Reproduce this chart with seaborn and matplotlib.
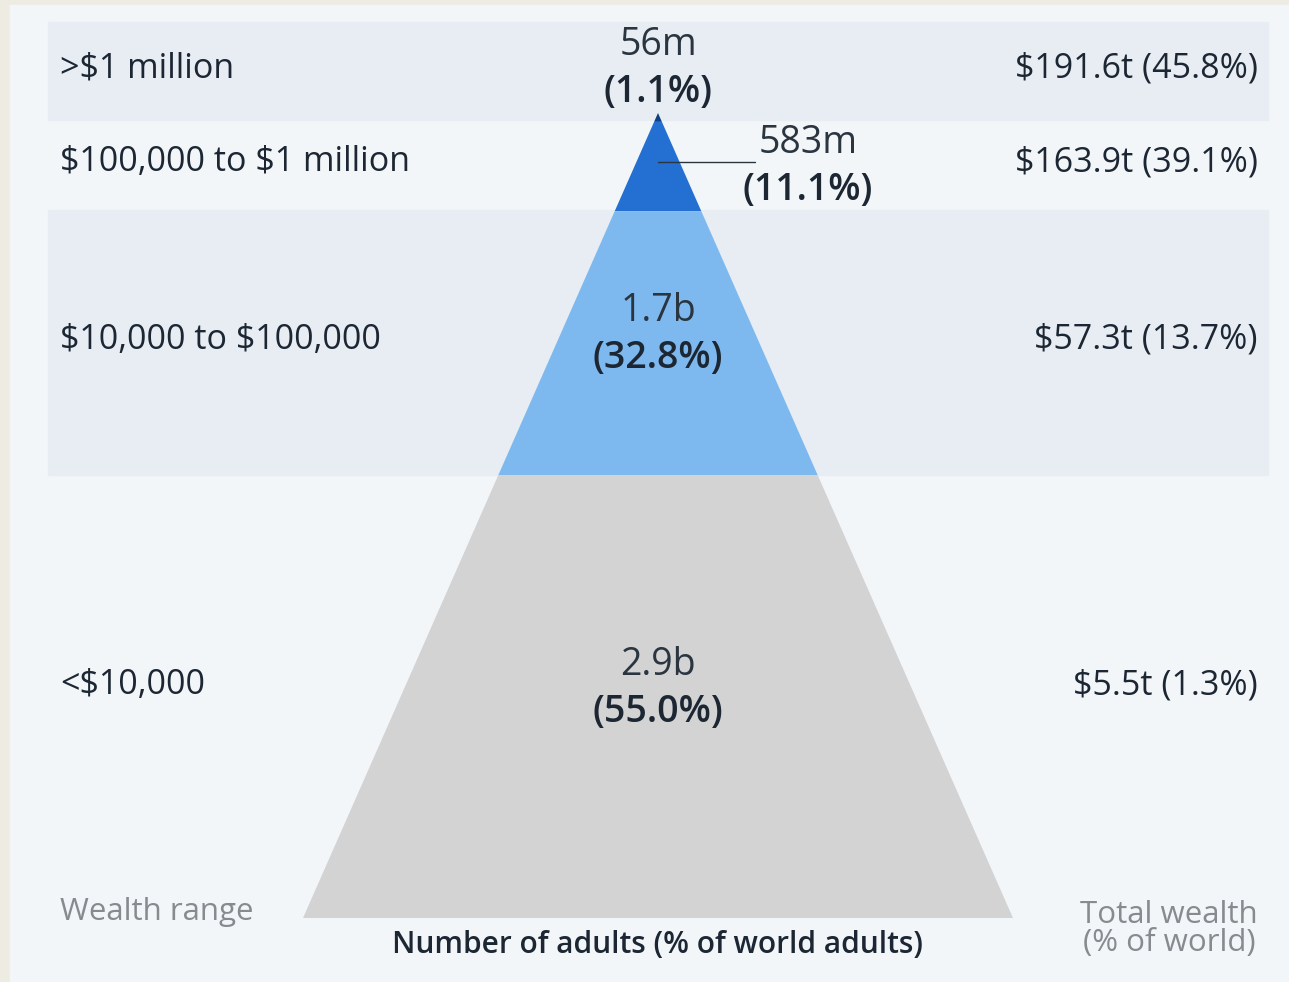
import numpy as np
import matplotlib.pyplot as plt
import seaborn as sns

# data
wealth_ranges = [">$1 million", "$100,000 to $1 million", "$10,000 to $100,000", "<$10,000"]
adults_label = ["56m", "583m", "1.7b", "2.9b"]
adults_pct = [1.1, 11.1, 32.8, 55.0]
wealth_total = [191.6, 163.9, 57.3, 5.5]
wealth_pct = [45.8, 39.1, 13.7, 1.3]

sns.set_theme(style="white")
plt.rcParams['font.family'] = ['Open Sans', 'DejaVu Sans']

tier_colors = ["#123f80", "#2370d2", "#7db9ef", "#d3d3d3"]
dark = "#1c2733"
grey_txt = "#868b90"

W, H = 1289, 982
fig = plt.figure(figsize=(W / 100, H / 100), dpi=100)
fig.patch.set_facecolor("#eeebe3")
ax = fig.add_axes([0, 0, 1, 1])
ax.set_xlim(0, W)
ax.set_ylim(H, 0)
ax.axis("off")

# panel and alternating row bands
ax.add_patch(plt.Rectangle((10, 5), W - 10, H - 5, color="#f3f6f9", zorder=0))
for top, bot in [(22, 120), (210, 475)]:
    ax.add_patch(plt.Rectangle((48, top), 1220, bot - top, color="#e8edf4", zorder=1))

# pyramid: tier heights proportional to share of adults
cx, apex, base, half = 658, 113, 918, 355
cum = np.concatenate([[0], np.cumsum(adults_pct)])
cum = cum / cum[-1]
edges = apex + (base - apex) * cum
for i in range(len(adults_pct)):
    t, b = edges[i], edges[i + 1]
    wt = half * (t - apex) / (base - apex)
    wb = half * (b - apex) / (base - apex)
    ax.fill([cx - wt, cx + wt, cx + wb, cx - wb], [t, t, b, b],
            color=tier_colors[i], lw=0, zorder=2)

fs = 24.5
row_y = [68, 162, 340, 685]
for i in range(4):
    ax.text(60, row_y[i], wealth_ranges[i], fontsize=fs, color=dark,
            ha="left", va="center", zorder=3, parse_math=False)
    ax.text(1258, row_y[i], f"${wealth_total[i]}t ({wealth_pct[i]}%)", fontsize=fs,
            color=dark, ha="right", va="center", zorder=3, parse_math=False)

# labels on the pyramid
pfs = 27
label_pos = [(cx, 45), (808, 143), (cx, (edges[2] + edges[3]) / 2 - 32),
             (cx, (edges[3] + edges[4]) / 2 - 32)]
for i, (x, y) in enumerate(label_pos):
    ax.text(x, y, adults_label[i], fontsize=pfs, color="#2a3540",
            ha="center", va="center", zorder=3)
    ax.text(x, y + 47, f"({adults_pct[i]}%)", fontsize=pfs, color=dark,
            fontweight="semibold", ha="center", va="center", zorder=3)
ax.plot([cx, 755], [162, 162], color="#2a3540", lw=1, zorder=3)

# footer labels
ax.text(60, 912, "Wealth range", fontsize=22.5, color=grey_txt, ha="left", va="center")
ax.text(cx, 945, "Number of adults (% of world adults)", fontsize=21.5, color=dark,
        fontweight="semibold", ha="center", va="center")
ax.text(1258, 929, "Total wealth\n(% of world)", fontsize=22.5, color=grey_txt,
        ha="right", va="center", multialignment="center", linespacing=0.9)

fig.savefig("out.png", dpi=100, facecolor=fig.get_facecolor())
